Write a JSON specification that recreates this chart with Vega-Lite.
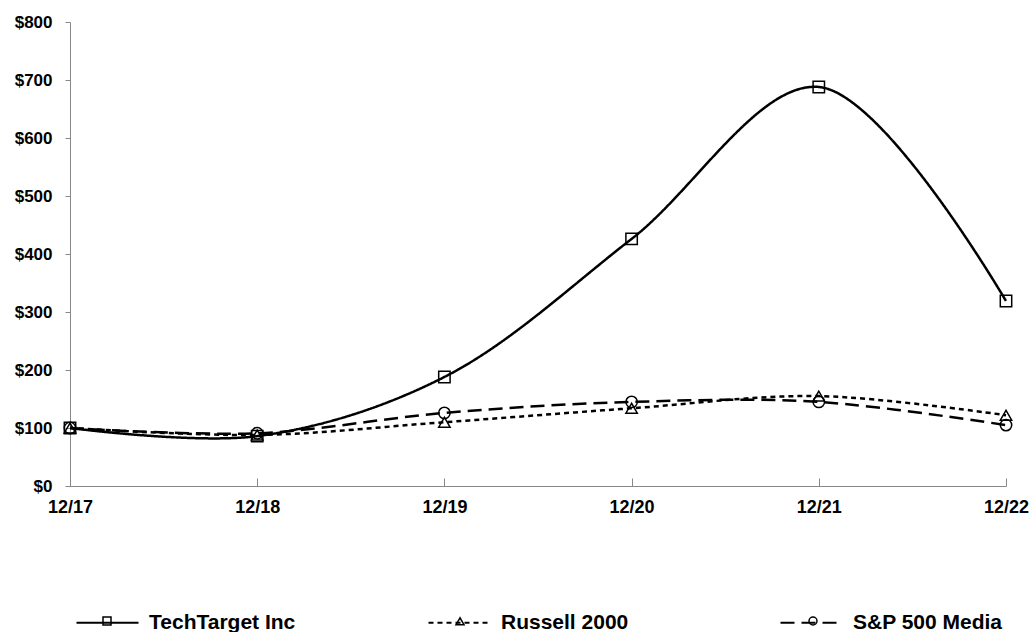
{
  "$schema": "https://vega.github.io/schema/vega-lite/v6.json",
  "width": 936,
  "height": 464,
  "autosize": {"type": "none"},
  "padding": {"left": 70, "top": 22, "right": 26, "bottom": 146},
  "background": "white",
  "config": {"view": {"stroke": null}, "font": "Liberation Sans"},
  "data": {
    "values": [
      {"year": "12/17", "series": "TechTarget Inc", "value": 100},
      {"year": "12/18", "series": "TechTarget Inc", "value": 86},
      {"year": "12/19", "series": "TechTarget Inc", "value": 188},
      {"year": "12/20", "series": "TechTarget Inc", "value": 426},
      {"year": "12/21", "series": "TechTarget Inc", "value": 688},
      {"year": "12/22", "series": "TechTarget Inc", "value": 319},
      {"year": "12/17", "series": "Russell 2000", "value": 100},
      {"year": "12/18", "series": "Russell 2000", "value": 88},
      {"year": "12/19", "series": "Russell 2000", "value": 110},
      {"year": "12/20", "series": "Russell 2000", "value": 134},
      {"year": "12/21", "series": "Russell 2000", "value": 155},
      {"year": "12/22", "series": "Russell 2000", "value": 122},
      {"year": "12/17", "series": "S&P 500 Media", "value": 100},
      {"year": "12/18", "series": "S&P 500 Media", "value": 91},
      {"year": "12/19", "series": "S&P 500 Media", "value": 126},
      {"year": "12/20", "series": "S&P 500 Media", "value": 145},
      {"year": "12/21", "series": "S&P 500 Media", "value": 145},
      {"year": "12/22", "series": "S&P 500 Media", "value": 105}
    ]
  },
  "encoding": {
    "x": {
      "field": "year", "type": "ordinal",
      "scale": {"type": "point", "padding": 0},
      "axis": {
        "title": null, "labelAngle": 0, "grid": false,
        "domainColor": "#888", "tickColor": "#888", "tickSize": -8,
        "labelFontSize": 18, "labelFontWeight": "bold", "labelColor": "black",
        "labelPadding": 20
      }
    },
    "y": {
      "field": "value", "type": "quantitative",
      "scale": {"domain": [0, 800]},
      "axis": {
        "title": null, "grid": false,
        "values": [0, 100, 200, 300, 400, 500, 600, 700, 800],
        "format": "$,.0f",
        "domainColor": "#888", "tickColor": "#888", "tickSize": 5,
        "labelFontSize": 17, "labelFontWeight": "bold", "labelColor": "black",
        "labelPadding": 13
      }
    }
  },
  "layer": [
    {
      "mark": {"type": "line", "interpolate": "catmull-rom", "color": "black", "strokeWidth": 2.5},
      "encoding": {
        "strokeDash": {
          "field": "series", "type": "nominal",
          "scale": {"domain": ["TechTarget Inc", "Russell 2000", "S&P 500 Media"], "range": [[1, 0], [5, 4], [14, 7]]},
          "legend": {
            "orient": "none", "legendX": 5, "legendY": 568, "direction": "horizontal",
            "title": null, "symbolType": "stroke", "symbolSize": 3844,
            "symbolStrokeWidth": 2.2, "symbolStrokeColor": "black",
            "labelFontSize": 21, "labelFontWeight": "bold", "labelColor": "black",
            "labelOffset": 9, "columnPadding": 125, "gridAlign": "all"
          }
        }
      }
    },
    {
      "mark": {"type": "point", "filled": false, "color": "black", "strokeWidth": 1.5, "size": 130, "opacity": 1},
      "encoding": {
        "shape": {
          "field": "series", "type": "nominal",
          "sort": ["TechTarget Inc", "Russell 2000", "S&P 500 Media"],
          "scale": {"range": ["square", "triangle-up", "circle"]},
          "legend": {
            "orient": "none", "legendX": 32, "legendY": 594, "direction": "horizontal",
            "title": null, "symbolSize": 64, "symbolStrokeWidth": 1.5,
            "symbolStrokeColor": "black", "symbolFillColor": "white",
            "labelExpr": "''", "labelOffset": 0, "columnPadding": 339, "gridAlign": "all"
          }
        }
      }
    }
  ]
}
